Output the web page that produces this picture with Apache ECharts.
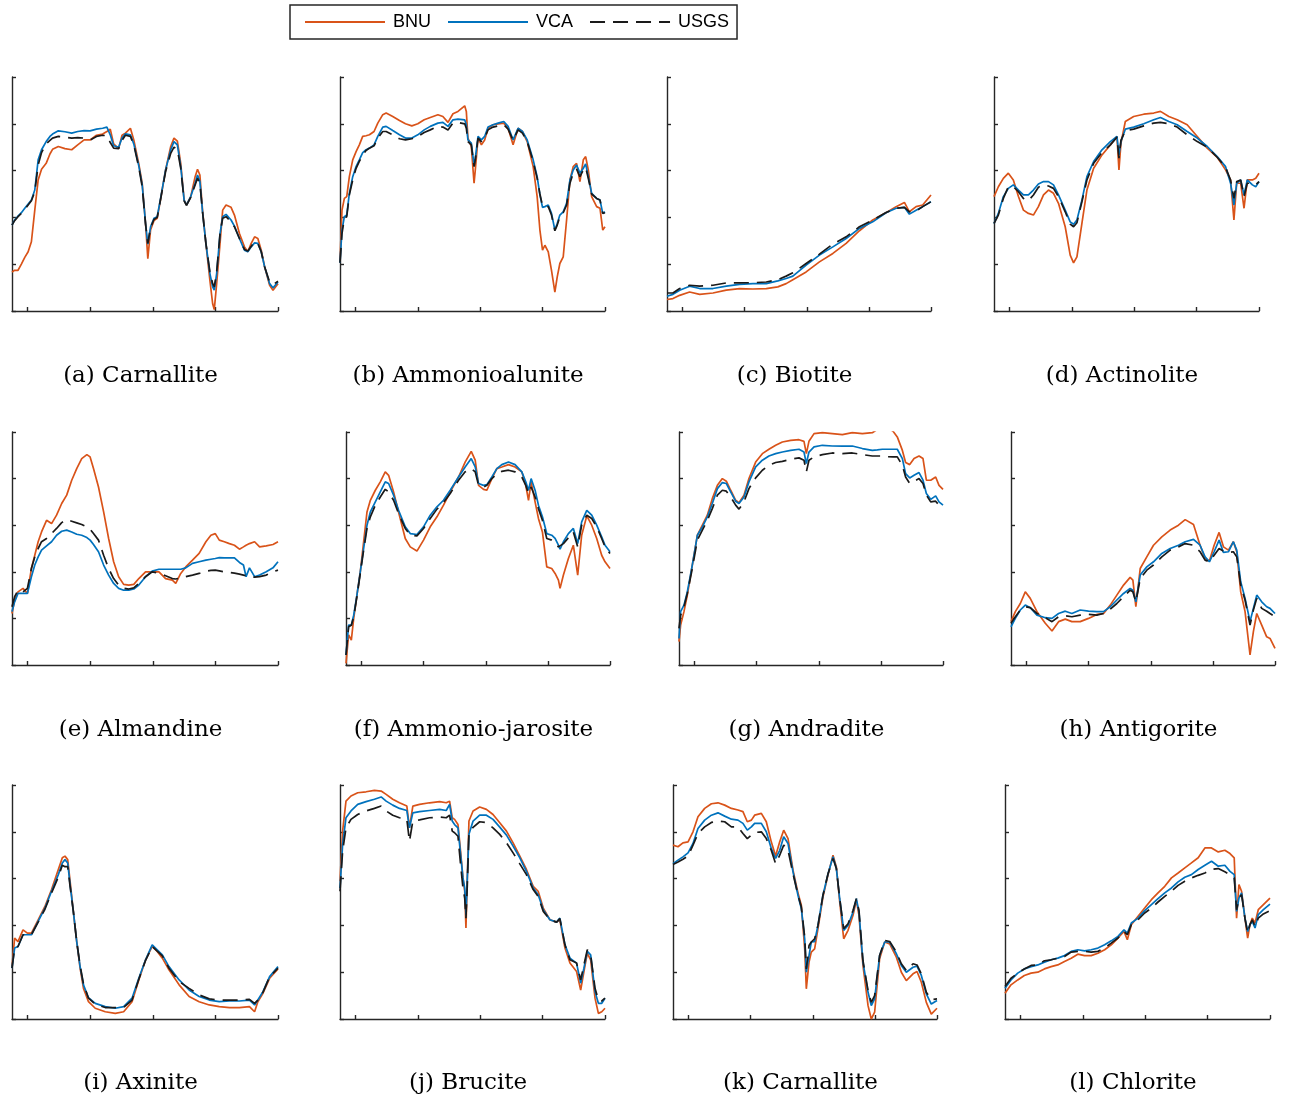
<!DOCTYPE html>
<html>
<head>
<meta charset="utf-8">
<title>Reflectance spectra</title>
<script src="https://cdn.jsdelivr.net/npm/echarts@6/dist/echarts.min.js"></script>
<style>
  html, body { margin: 0; padding: 0; background: #fff; }
  #chart { width: 1292px; height: 1099px; }
</style>
</head>
<body>
<div id="chart"></div>
<script>
// Reflectance spectra of twelve minerals: BNU vs VCA vs USGS library.
// Wavelengths in nm, reflectance 0..1.

// (a) Carnallite
const wlA = [375,396,423,450,477,504,530,557,584,611,648,678,699,745,798,852,900,951,999,1050,1099,1133,1160,1187,1227,1254,1281,1321,1348,1388,1415,1442,1460,1482,1509,1535,1562,1602,1643,1669,1696,1723,1750,1769,1803,1838,1857,1876,1897,1924,1956,1978,1991,2010,2037,2058,2085,2125,2152,2192,2232,2259,2286,2313,2339,2366,2393,2433,2460,2500];
const bnuA = [.167,.174,.174,.2,.229,.253,.296,.431,.56,.606,.631,.671,.691,.703,.694,.689,.71,.731,.731,.751,.756,.767,.777,.714,.694,.751,.76,.781,.731,.629,.546,.374,.224,.346,.386,.396,.477,.603,.703,.739,.726,.631,.474,.453,.489,.574,.606,.581,.431,.289,.131,.031,.006,.117,.289,.431,.453,.443,.41,.331,.274,.253,.289,.317,.31,.26,.189,.11,.089,.117];
const vcaA = [.367,.389,.406,.42,.439,.457,.474,.517,.646,.689,.724,.746,.756,.77,.766,.76,.767,.771,.77,.777,.781,.786,.753,.706,.70,.739,.757,.753,.714,.62,.539,.374,.286,.36,.396,.403,.481,.603,.689,.724,.71,.617,.474,.453,.489,.546,.581,.553,.424,.289,.16,.103,.089,.16,.331,.403,.413,.389,.363,.31,.26,.253,.274,.291,.289,.253,.189,.117,.099,.124];
const usgsA = [.367,.386,.403,.417,.434,.453,.471,.51,.624,.677,.714,.729,.739,.746,.743,.739,.741,.739,.731,.746,.751,.749,.72,.696,.694,.729,.751,.746,.71,.614,.531,.371,.289,.357,.391,.40,.477,.596,.674,.70,.691,.61,.471,.451,.486,.539,.567,.546,.424,.289,.167,.117,.103,.167,.331,.396,.403,.381,.36,.31,.263,.256,.277,.296,.289,.253,.189,.124,.113,.127];

// (b) Ammonioalunite
const wlB = [375,391,410,429,450,477,504,530,557,584,611,648,678,718,745,798,852,900,951,999,1050,1099,1160,1200,1241,1281,1321,1375,1388,1401,1428,1450,1460,1482,1509,1535,1562,1602,1643,1688,1723,1763,1803,1838,1876,1924,1956,1978,1999,2018,2045,2071,2098,2117,2138,2165,2192,2219,2245,2272,2299,2326,2345,2366,2393,2433,2460,2482,2500];
const bnuB = [.21,.431,.481,.489,.574,.646,.681,.71,.746,.749,.753,.767,.803,.839,.846,.831,.814,.80,.791,.80,.817,.827,.839,.831,.806,.843,.853,.877,.853,.739,.703,.546,.603,.739,.71,.731,.781,.796,.80,.803,.781,.71,.781,.767,.724,.617,.489,.346,.26,.281,.253,.174,.081,.146,.203,.231,.389,.56,.617,.631,.553,.646,.66,.603,.489,.446,.439,.346,.36];
const vcaB = [.206,.346,.403,.41,.503,.574,.617,.646,.677,.689,.696,.71,.746,.786,.789,.771,.753,.739,.739,.753,.774,.789,.803,.806,.789,.817,.82,.817,.796,.731,.717,.624,.653,.746,.731,.746,.786,.796,.803,.81,.789,.731,.781,.767,.731,.646,.574,.496,.443,.446,.453,.417,.346,.374,.41,.424,.46,.56,.603,.624,.589,.61,.629,.574,.503,.481,.474,.417,.424];
const usgsB = [.206,.331,.396,.403,.496,.56,.61,.639,.667,.686,.696,.706,.739,.767,.767,.753,.736,.731,.736,.746,.763,.774,.789,.786,.774,.803,.806,.80,.781,.724,.71,.617,.646,.739,.724,.739,.774,.786,.791,.796,.777,.729,.774,.76,.724,.639,.567,.50,.449,.446,.446,.41,.343,.367,.403,.42,.453,.546,.589,.606,.574,.603,.614,.567,.50,.481,.474,.417,.42];

// (c) Biotite
const wlC = [375,423,477,557,638,745,852,959,1066,1174,1267,1334,1388,1495,1602,1710,1817,1924,2031,2138,2219,2286,2326,2380,2433,2500];
const bnuC = [.049,.053,.067,.081,.071,.077,.089,.096,.094,.096,.103,.117,.134,.167,.21,.246,.289,.343,.389,.42,.446,.464,.424,.446,.453,.496];
const vcaC = [.063,.071,.089,.106,.096,.096,.106,.114,.117,.117,.129,.139,.149,.196,.239,.274,.31,.353,.381,.42,.439,.443,.414,.431,.446,.467];
const usgsC = [.077,.077,.096,.11,.106,.11,.12,.12,.121,.124,.134,.149,.163,.203,.243,.286,.317,.36,.389,.421,.439,.443,.424,.427,.446,.467];

// (d) Actinolite
const wlD = [375,410,450,490,530,571,611,651,691,731,772,812,852,892,946,986,1013,1040,1080,1120,1174,1241,1308,1361,1377,1393,1428,1495,1576,1656,1710,1777,1844,1924,2005,2085,2165,2232,2272,2299,2321,2353,2380,2406,2447,2474,2500];
const bnuD = [.489,.531,.567,.589,.56,.489,.431,.417,.41,.446,.496,.517,.503,.46,.36,.239,.206,.231,.374,.517,.61,.667,.71,.746,.603,.717,.81,.831,.841,.846,.853,.831,.817,.796,.746,.696,.657,.603,.56,.389,.546,.546,.439,.56,.56,.567,.589];
const vcaD = [.374,.417,.489,.524,.539,.517,.496,.496,.517,.543,.553,.553,.539,.496,.431,.381,.371,.389,.474,.574,.639,.689,.724,.746,.667,.724,.777,.786,.80,.817,.827,.81,.796,.767,.739,.703,.66,.617,.546,.453,.546,.56,.496,.56,.539,.531,.553];
const usgsD = [.374,.41,.481,.531,.531,.51,.481,.471,.496,.529,.539,.534,.524,.489,.424,.371,.36,.377,.467,.56,.631,.677,.71,.743,.653,.729,.771,.777,.791,.803,.806,.80,.786,.753,.724,.70,.657,.614,.56,.481,.553,.56,.489,.546,.546,.539,.553];

// (e) Almandine
const wlE = [375,396,423,463,498,530,557,584,611,651,691,731,772,812,852,892,932,973,999,1026,1066,1107,1147,1187,1227,1267,1308,1348,1388,1442,1495,1549,1602,1656,1683,1723,1763,1817,1870,1924,1964,1999,2031,2071,2112,2152,2192,2224,2245,2272,2313,2353,2406,2460,2500];
const bnuE = [.221,.279,.314,.329,.307,.414,.471,.529,.571,.621,.607,.643,.693,.729,.793,.843,.886,.903,.893,.843,.764,.657,.543,.443,.379,.346,.343,.346,.371,.40,.40,.40,.371,.364,.35,.393,.421,.45,.479,.529,.557,.564,.536,.529,.521,.514,.497,.507,.514,.521,.529,.507,.511,.517,.529];
const vcaE = [.229,.271,.307,.307,.307,.379,.429,.464,.493,.511,.529,.557,.574,.579,.571,.561,.557,.547,.536,.517,.486,.429,.386,.35,.329,.321,.321,.326,.343,.379,.403,.411,.411,.411,.411,.411,.417,.436,.443,.45,.454,.457,.461,.46,.46,.46,.44,.429,.379,.417,.379,.386,.40,.417,.443];
const usgsE = [.25,.293,.321,.314,.329,.414,.464,.50,.529,.543,.564,.586,.611,.624,.617,.61,.603,.593,.583,.564,.536,.471,.414,.371,.343,.329,.326,.331,.35,.379,.40,.393,.383,.371,.369,.374,.379,.386,.393,.403,.406,.407,.404,.40,.397,.394,.39,.386,.383,.379,.377,.379,.386,.40,.407];

// (f) Ammonio-jarosite
const wlF = [375,396,418,437,463,490,517,544,571,611,651,691,718,758,798,852,892,946,999,1053,1107,1160,1214,1281,1334,1383,1415,1442,1482,1509,1549,1589,1629,1683,1736,1790,1822,1844,1865,1897,1924,1956,1991,2031,2058,2085,2098,2125,2165,2205,2240,2272,2313,2353,2393,2433,2460,2500];
const bnuF = [.007,.129,.107,.20,.30,.40,.529,.657,.707,.75,.786,.829,.814,.743,.657,.543,.507,.489,.536,.593,.636,.686,.743,.807,.871,.917,.879,.771,.754,.75,.80,.843,.85,.86,.85,.829,.771,.707,.786,.70,.629,.571,.421,.414,.393,.364,.329,.386,.457,.514,.386,.557,.64,.60,.543,.471,.443,.414];
const vcaF = [.043,.171,.171,.214,.30,.40,.50,.60,.657,.70,.743,.786,.779,.729,.664,.593,.564,.56,.593,.643,.679,.707,.75,.807,.85,.886,.85,.779,.771,.774,.807,.843,.86,.871,.86,.829,.786,.75,.80,.75,.686,.636,.564,.557,.543,.514,.497,.529,.564,.586,.521,.614,.664,.643,.60,.55,.514,.486];
const usgsF = [.043,.164,.171,.207,.293,.393,.493,.586,.636,.686,.721,.754,.743,.707,.65,.586,.557,.554,.586,.629,.669,.697,.736,.793,.829,.843,.829,.771,.764,.771,.80,.821,.831,.836,.829,.807,.771,.736,.764,.721,.671,.621,.543,.536,.526,.507,.50,.521,.546,.571,.507,.60,.643,.629,.593,.543,.507,.479];

// (g) Andradite
const wlG = [375,388,415,442,482,523,563,603,643,684,724,756,791,831,858,898,938,992,1046,1099,1153,1207,1274,1341,1381,1400,1421,1462,1529,1609,1690,1770,1851,1931,1971,2012,2052,2098,2132,2173,2199,2232,2267,2307,2339,2366,2401,2441,2468,2500];
const bnuG = [.10,.171,.229,.30,.429,.557,.60,.643,.714,.771,.80,.789,.75,.707,.697,.729,.80,.871,.907,.926,.943,.957,.964,.967,.96,.907,.96,.993,.997,.993,.989,.997,.993,.997,1.011,1.02,1.02,1.003,.979,.921,.869,.86,.886,.897,.886,.793,.793,.807,.771,.754];
const vcaG = [.114,.229,.257,.314,.429,.557,.593,.636,.693,.757,.783,.779,.743,.703,.693,.721,.786,.85,.879,.897,.907,.914,.921,.926,.914,.864,.914,.936,.943,.94,.939,.94,.929,.921,.923,.926,.926,.926,.926,.886,.821,.803,.814,.826,.793,.736,.711,.726,.70,.686];
const usgsG = [.157,.214,.25,.307,.414,.536,.579,.621,.671,.729,.75,.746,.721,.686,.669,.70,.757,.803,.836,.857,.869,.874,.883,.889,.879,.829,.879,.893,.903,.91,.907,.91,.903,.897,.897,.897,.894,.893,.893,.857,.807,.779,.789,.80,.779,.729,.70,.703,.686,.671];

// (h) Antigorite
const wlH = [375,410,450,490,530,584,651,705,758,812,865,932,999,1066,1120,1174,1227,1281,1334,1356,1380,1415,1468,1522,1589,1656,1723,1777,1844,1897,1937,1972,2010,2050,2085,2125,2165,2192,2224,2259,2299,2326,2353,2393,2433,2460,2500];
const bnuH = [.186,.229,.264,.314,.286,.229,.179,.146,.186,.197,.186,.186,.20,.217,.221,.257,.30,.343,.376,.364,.25,.414,.464,.514,.55,.579,.60,.624,.603,.514,.457,.446,.514,.569,.507,.493,.529,.486,.314,.229,.043,.143,.221,.171,.121,.114,.071];
const vcaH = [.164,.20,.236,.257,.246,.214,.203,.20,.221,.231,.221,.236,.231,.229,.229,.25,.279,.307,.329,.321,.271,.386,.421,.443,.479,.50,.514,.529,.539,.514,.464,.443,.486,.536,.483,.486,.529,.493,.357,.286,.186,.243,.30,.271,.25,.243,.221];
const usgsH = [.179,.207,.236,.25,.246,.221,.203,.186,.207,.211,.207,.214,.217,.214,.221,.24,.264,.293,.321,.314,.271,.371,.407,.429,.464,.493,.507,.521,.514,.486,.45,.443,.471,.50,.489,.483,.486,.464,.343,.279,.171,.236,.286,.243,.231,.221,.207];

// (i) Axinite
const wlI = [375,396,423,463,498,530,584,638,691,745,777,798,820,839,865,892,919,946,986,1040,1120,1200,1267,1334,1388,1442,1495,1535,1576,1629,1710,1790,1870,1951,2031,2112,2192,2272,2313,2339,2380,2433,2500];
const bnuI = [.224,.346,.331,.381,.367,.367,.424,.481,.553,.639,.689,.696,.681,.589,.46,.331,.217,.131,.074,.046,.031,.024,.031,.074,.167,.253,.31,.289,.26,.21,.146,.096,.074,.06,.053,.049,.049,.053,.031,.074,.11,.174,.214];
const vcaI = [.217,.303,.31,.36,.36,.36,.417,.474,.546,.617,.667,.681,.667,.574,.46,.331,.224,.146,.091,.067,.053,.046,.053,.089,.174,.253,.317,.296,.274,.224,.167,.124,.096,.081,.074,.077,.077,.081,.06,.081,.117,.181,.224];
const usgsI = [.217,.303,.31,.36,.36,.36,.414,.469,.539,.607,.657,.651,.651,.567,.46,.331,.229,.15,.089,.063,.049,.049,.05,.081,.17,.25,.31,.29,.27,.217,.16,.131,.103,.086,.081,.081,.081,.084,.067,.081,.114,.181,.217];

// (j) Brucite
const wlJ = [375,396,423,463,517,584,651,705,745,798,852,911,932,959,1013,1093,1174,1227,1254,1275,1294,1321,1342,1361,1375,1385,1396,1409,1442,1495,1549,1602,1656,1710,1763,1817,1870,1924,1964,2005,2058,2112,2138,2179,2219,2272,2305,2331,2358,2385,2420,2447,2474,2500];
const bnuJ = [.589,.803,.931,.953,.967,.971,.977,.974,.96,.939,.924,.91,.817,.91,.917,.924,.929,.924,.931,.86,.853,.831,.717,.603,.546,.389,.603,.846,.889,.906,.896,.874,.839,.803,.753,.696,.639,.567,.546,.474,.424,.414,.424,.303,.239,.203,.124,.203,.281,.253,.089,.024,.031,.046];
const vcaJ = [.56,.746,.86,.889,.917,.929,.939,.949,.931,.914,.90,.891,.817,.881,.886,.891,.896,.891,.917,.846,.831,.817,.703,.603,.56,.446,.603,.789,.846,.871,.871,.853,.82,.786,.739,.689,.631,.56,.531,.467,.424,.414,.431,.317,.26,.239,.153,.217,.289,.274,.117,.067,.067,.089];
const usgsJ = [.546,.717,.817,.853,.874,.889,.90,.91,.889,.871,.86,.853,.76,.846,.851,.86,.863,.86,.871,.803,.796,.781,.66,.56,.517,.431,.574,.794,.819,.843,.839,.817,.789,.753,.71,.663,.617,.553,.524,.46,.424,.414,.429,.317,.253,.239,.167,.231,.296,.274,.131,.081,.077,.089];

// (k) Carnallite
const wlK = [375,415,455,496,536,576,630,684,737,791,845,898,938,973,1006,1032,1086,1126,1166,1201,1234,1266,1301,1341,1381,1408,1435,1448,1470,1488,1515,1542,1582,1623,1663,1690,1717,1749,1784,1824,1851,1872,1904,1945,1971,1998,2038,2079,2119,2173,2213,2253,2307,2339,2374,2414,2454,2500];
const bnuK = [.743,.736,.753,.757,.80,.864,.90,.92,.924,.914,.90,.893,.886,.843,.85,.871,.879,.843,.757,.697,.757,.807,.771,.636,.539,.486,.30,.129,.243,.286,.30,.386,.521,.617,.70,.65,.50,.343,.379,.443,.507,.443,.229,.057,.0,.029,.257,.329,.321,.264,.20,.164,.193,.203,.157,.071,.021,.046];
const vcaK = [.664,.679,.693,.71,.75,.814,.85,.871,.881,.867,.854,.85,.836,.807,.821,.836,.836,.80,.729,.686,.721,.779,.75,.629,.529,.471,.343,.20,.271,.329,.331,.40,.529,.621,.693,.643,.514,.379,.40,.457,.514,.457,.243,.114,.057,.086,.271,.329,.329,.279,.229,.20,.221,.226,.186,.107,.064,.079];
const usgsK = [.66,.671,.683,.697,.743,.793,.821,.84,.846,.843,.821,.821,.793,.771,.786,.797,.80,.771,.721,.664,.70,.743,.721,.621,.529,.479,.35,.214,.314,.329,.343,.40,.529,.621,.686,.643,.514,.386,.407,.464,.514,.464,.25,.121,.071,.10,.271,.336,.331,.286,.236,.207,.236,.231,.193,.114,.083,.086];

// (l) Chlorite
const wlL = [375,423,477,530,584,638,691,745,798,852,906,959,1013,1066,1120,1174,1227,1281,1329,1356,1388,1442,1495,1549,1602,1656,1710,1763,1817,1870,1924,1978,2031,2085,2138,2179,2213,2232,2251,2272,2299,2321,2339,2358,2380,2406,2447,2500];
const bnuL = [.11,.146,.167,.186,.196,.20,.214,.224,.231,.246,.26,.277,.271,.271,.281,.296,.317,.346,.374,.339,.403,.439,.474,.51,.539,.567,.603,.624,.646,.667,.689,.731,.731,.714,.721,.707,.689,.431,.574,.546,.431,.346,.403,.431,.41,.467,.489,.517];
const vcaL = [.131,.167,.196,.214,.224,.231,.243,.253,.26,.271,.289,.296,.291,.296,.303,.317,.334,.353,.381,.367,.41,.431,.463,.489,.514,.539,.56,.586,.606,.617,.639,.657,.674,.653,.657,.631,.617,.46,.517,.539,.431,.374,.403,.417,.389,.446,.467,.491];
const usgsL = [.139,.174,.196,.214,.229,.231,.249,.253,.26,.267,.286,.289,.289,.286,.289,.303,.324,.346,.374,.36,.403,.424,.453,.474,.50,.524,.546,.571,.589,.603,.614,.624,.639,.643,.629,.617,.603,.467,.517,.531,.431,.367,.403,.424,.396,.431,.449,.463];

// Axis settings shared by every panel
const WL_MIN = 375, WL_MAX = 2500;
const WL_TICKS = [500, 1000, 1500, 2000, 2500];
const REFL_MIN = 0, REFL_MAX = 1, REFL_STEP = 0.2;

const SERIES_NAMES = ['BNU', 'VCA', 'USGS'];
const SERIES_COLORS = { BNU: '#D95319', VCA: '#0072BD', USGS: '#1a1a1a' };

// Panels: caption + data, laid out 4 per row
const panels = [
  { caption: '(a) Carnallite',        wl: wlA, BNU: bnuA, VCA: vcaA, USGS: usgsA },
  { caption: '(b) Ammonioalunite',    wl: wlB, BNU: bnuB, VCA: vcaB, USGS: usgsB },
  { caption: '(c) Biotite',           wl: wlC, BNU: bnuC, VCA: vcaC, USGS: usgsC },
  { caption: '(d) Actinolite',        wl: wlD, BNU: bnuD, VCA: vcaD, USGS: usgsD },
  { caption: '(e) Almandine',         wl: wlE, BNU: bnuE, VCA: vcaE, USGS: usgsE },
  { caption: '(f) Ammonio-jarosite',  wl: wlF, BNU: bnuF, VCA: vcaF, USGS: usgsF },
  { caption: '(g) Andradite',         wl: wlG, BNU: bnuG, VCA: vcaG, USGS: usgsG },
  { caption: '(h) Antigorite',        wl: wlH, BNU: bnuH, VCA: vcaH, USGS: usgsH },
  { caption: '(i) Axinite',           wl: wlI, BNU: bnuI, VCA: vcaI, USGS: usgsI },
  { caption: '(j) Brucite',           wl: wlJ, BNU: bnuJ, VCA: vcaJ, USGS: usgsJ },
  { caption: '(k) Carnallite',        wl: wlK, BNU: bnuK, VCA: vcaK, USGS: usgsK },
  { caption: '(l) Chlorite',          wl: wlL, BNU: bnuL, VCA: vcaL, USGS: usgsL }
];

// Plot-area boxes (px) for each panel
const rowTops = [77, 432, 785];
const rowHeights = [234, 233, 234];
const colLefts = [
  [12, 340, 667, 994],
  [12, 346, 679, 1011],
  [12, 340, 673, 1005]
];
const colWidths = [
  [266, 265, 264, 265],
  [266, 264, 264, 264],
  [266, 265, 264, 265]
];
const captionY = [376, 730, 1083];

const grids = [], xAxes = [], yAxes = [], series = [], captions = [];

panels.forEach((p, i) => {
  const r = Math.floor(i / 4), c = i % 4;
  const left = colLefts[r][c], top = rowTops[r];
  const width = colWidths[r][c], height = rowHeights[r];

  grids.push({ left, top, width, height, containLabel: false });

  xAxes.push({
    gridIndex: i, type: 'value', min: WL_MIN, max: WL_MAX,
    axisLine: { show: true, lineStyle: { color: '#262626', width: 1.4 } },
    axisTick: { show: true, inside: true, length: 4, customValues: WL_TICKS,
                lineStyle: { color: '#262626', width: 1.4 } },
    axisLabel: { show: false },
    splitLine: { show: false }
  });

  yAxes.push({
    gridIndex: i, type: 'value', min: REFL_MIN, max: REFL_MAX, interval: REFL_STEP,
    axisLine: { show: true, lineStyle: { color: '#262626', width: 1.4 } },
    axisTick: { show: true, inside: true, length: 4,
                lineStyle: { color: '#262626', width: 1.4 } },
    axisLabel: { show: false },
    splitLine: { show: false }
  });

  SERIES_NAMES.forEach(name => {
    const ys = p[name];
    series.push({
      name, type: 'line',
      xAxisIndex: i, yAxisIndex: i,
      data: p.wl.map((w, k) => [w, ys[k]]),
      showSymbol: false, symbol: 'none',
      smooth: false, clip: true,
      lineStyle: {
        color: SERIES_COLORS[name],
        width: 1.7,
        type: name === 'USGS' ? [15, 8] : 'solid'
      },
      itemStyle: { color: SERIES_COLORS[name] },
      emphasis: { disabled: true },
      animation: false
    });
  });

  captions.push({
    type: 'text',
    x: left + width / 2 - 4.5,
    y: captionY[r],
    style: {
      text: p.caption,
      font: '23px "DejaVu Serif"',
      fill: '#000',
      textAlign: 'center',
      textVerticalAlign: 'middle',
      verticalAlign: 'middle'
    }
  });
});

const chart = echarts.init(document.getElementById('chart'), null, { renderer: 'canvas' });
chart.setOption({
  backgroundColor: '#fff',
  animation: false,
  legend: {
    data: SERIES_NAMES,
    left: 290, top: 5,
    orient: 'horizontal',
    itemWidth: 80, itemHeight: 14, itemGap: 16,
    padding: [8, 8, 8, 14],
    borderColor: '#262626', borderWidth: 1.5,
    selectedMode: false,
    // plain line keys, no marker dot
    itemStyle: { opacity: 0 },
    textStyle: { fontFamily: '"Liberation Sans", Arial, sans-serif', fontSize: 18,
                 color: '#000', padding: [0, 0, 0, 3] }
  },
  grid: grids,
  xAxis: xAxes,
  yAxis: yAxes,
  series,
  graphic: captions
});
</script>
</body>
</html>
